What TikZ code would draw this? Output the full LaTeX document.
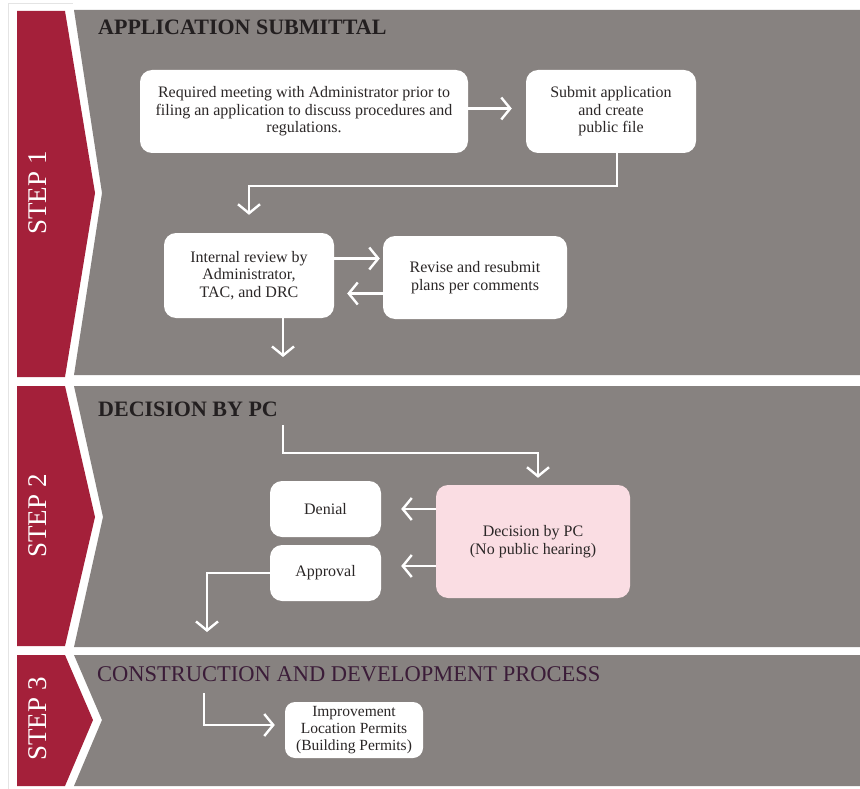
\documentclass[tikz,border=0pt]{standalone}
\usepackage{fontspec}
\setmainfont{Liberation Serif}
\usetikzlibrary{arrows.meta}

\definecolor{stepred}{HTML}{A4203A}
\definecolor{panelgray}{HTML}{878280}
\definecolor{decpink}{HTML}{FADDE3}
\definecolor{boxtext}{HTML}{2B2727}
\definecolor{headdark}{HTML}{231F20}
\definecolor{headpurple}{HTML}{3B1C38}
\definecolor{edgegray}{HTML}{E4E4E4}

\begin{document}
\begin{tikzpicture}[x=1pt,y=-1pt,
  box/.style={fill=white, rounded corners=12pt, align=center, text=boxtext,
    font=\fontsize{16}{17.5}\selectfont, inner sep=0pt},
  pinkbox/.style={box, fill=decpink},
  flow/.style={white, line width=2.4pt,
    -{Straight Barb[length=9pt,width=22pt,line width=2.4pt]}},
  steplabel/.style={rotate=90, text=white, font=\fontsize{27}{27}\selectfont},
  heading/.style={anchor=base west, inner sep=0pt, text=headdark,
    font=\fontsize{22}{22}\selectfont\bfseries},
  heading3/.style={anchor=base west, inner sep=0pt, text=headpurple,
    font=\fontsize{22.5}{22}\selectfont},
]
\useasboundingbox (0,0) rectangle (860,789);
\fill[white] (0,0) rectangle (860,789);

% faint outline of the left column
\draw[edgegray, line width=0.8pt] (8,789) -- (8,3) -- (73,3);

% ---- step bands: red chevron and gray panel ----
% step 1
\fill[stepred] (17,11) -- (65,11) -- (95,193) -- (65,377) -- (17,377) -- cycle;
\fill[panelgray] (74,10) -- (860,10) -- (860,375) -- (74,375) -- (102,193) -- cycle;
% step 2
\fill[stepred] (17,386) -- (65,386) -- (95,517) -- (65,646) -- (17,646) -- cycle;
\fill[panelgray] (74,386) -- (860,386) -- (860,647) -- (74,647) -- (103,517) -- cycle;
% step 3
\fill[stepred] (17,655) -- (65,655) -- (93,720) -- (65,786) -- (17,786) -- cycle;
\fill[panelgray] (74,655) -- (860,655) -- (860,786) -- (74,786) -- (102,720) -- cycle;

\node[steplabel] (st1) at (38,193) {STEP 1};
\node[steplabel] (st2) at (38,516) {STEP 2};
\node[steplabel] (st3) at (38,719) {STEP 3};

% ---- headings ----
\node[heading] (h1) at (98,35) {APPLICATION SUBMITTAL};
\node[heading] (h2) at (98,416) {DECISION BY PC};
\node[heading3] (h3) at (97,681) {CONSTRUCTION AND DEVELOPMENT PROCESS};

% ---- step 1 boxes ----
\node[box, minimum width=328pt, minimum height=83pt] (A) at (304,111.5)
  {Required meeting with Administrator prior to\\filing an application to discuss procedures and\\regulations.};
\node[box, minimum width=170pt, minimum height=83pt] (B) at (611,111.5)
  {Submit application\\and create\\public file};
\node[box, minimum width=170pt, minimum height=85pt] (C) at (249,275.5)
  {Internal review by\\Administrator,\\TAC, and DRC};
\node[box, minimum width=184pt, minimum height=83pt] (D) at (475,277.5)
  {Revise and resubmit\\plans per comments};

% ---- step 2 boxes ----
\node[pinkbox, minimum width=194pt, minimum height=113pt] (E) at (533,541.5)
  {Decision by PC\\(No public hearing)};
\node[box, minimum width=111pt, minimum height=56pt] (F) at (325.5,509) {Denial};
\node[box, minimum width=111pt, minimum height=56pt] (G) at (325.5,573) {Approval};

% ---- step 3 box ----
\node[box, minimum width=138pt, minimum height=56pt, rounded corners=10pt,
  font=\fontsize{15.5}{17}\selectfont] (H) at (354,730)
  {Improvement\\Location Permits\\(Building Permits)};

% ---- free ends of connectors ----
\coordinate (s1out) at (283,357);
\coordinate (s2in) at (283,425);
\coordinate (s2out) at (207,632);
\coordinate (s3in) at (204,693);

% ---- connectors ----
\draw[flow, shorten >=14pt] ([yshift=3pt]A.east) -- ([yshift=3pt]A.east -| B.west);
\draw[flow, shorten >=18pt] ([xshift=6pt]B.south) -- ++(0,33) -| (C.north);
\draw[flow, shorten >=3pt] ([yshift=17pt]C.east) -- ([yshift=17pt]C.east -| D.west);
\draw[flow, shorten >=13pt] ([yshift=-16pt]D.west) -- ([yshift=-16pt]D.west -| C.east);
\draw[flow] ([xshift=34pt]C.south) -- (s1out);

\draw[flow, shorten >=7pt] (s2in) -- (283,453) -| ([xshift=5pt]E.north);
\draw[flow, shorten >=20pt] (E.west |- F.east) -- (F.east);
\draw[flow, shorten >=20pt] ([yshift=7pt]E.west |- G.east) -- ([yshift=7pt]G.east);
\draw[flow] (G.west) -| (s2out);

\draw[flow, shorten >=10pt] (s3in) |- ([yshift=5pt]H.west);
\end{tikzpicture}
\end{document}
